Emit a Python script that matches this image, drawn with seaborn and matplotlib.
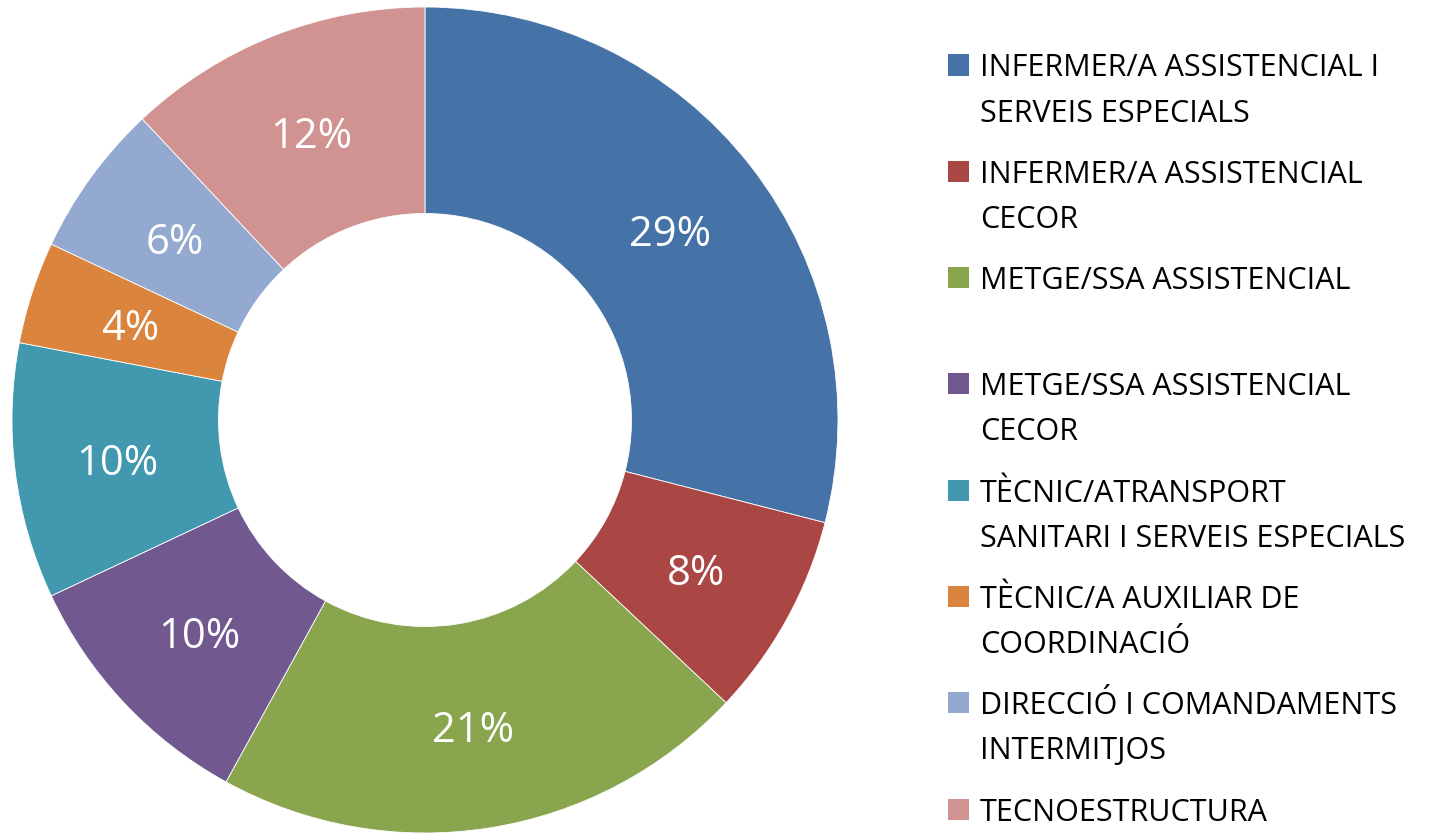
"""Donut chart of staff distribution by professional category."""

import matplotlib
matplotlib.use("Agg")
import matplotlib.pyplot as plt
import seaborn as sns
from matplotlib.patches import Rectangle

categories = [
    "INFERMER/A ASSISTENCIAL I\nSERVEIS ESPECIALS",
    "INFERMER/A ASSISTENCIAL\nCECOR",
    "METGE/SSA ASSISTENCIAL",
    "METGE/SSA ASSISTENCIAL\nCECOR",
    "TÈCNIC/ATRANSPORT\nSANITARI I SERVEIS ESPECIALS",
    "TÈCNIC/A AUXILIAR DE\nCOORDINACIÓ",
    "DIRECCIÓ I COMANDAMENTS\nINTERMITJOS",
    "TECNOESTRUCTURA",
]
shares = [29, 8, 21, 10, 10, 4, 6, 12]

colors = ["#4572A7", "#AA4643", "#89A54E", "#71588F",
          "#4198AF", "#DB843D", "#93A9CF", "#D19392"]

sns.set_theme(style="white")
plt.rcParams["font.family"] = ["Open Sans", "DejaVu Sans"]

W, H = 1440, 833
fig = plt.figure(figsize=(W / 100, H / 100), dpi=100)

# pie centre ~ (425, 420) px, radius ~413 px
cx, cy, r = 425, 420, 413
ax = fig.add_axes([(cx - r) / W, (H - cy - r) / H, 2 * r / W, 2 * r / H])

wedges, texts, autotexts = ax.pie(
    shares,
    colors=colors,
    startangle=90,
    counterclock=False,
    radius=1.0,
    autopct=lambda p: f"{p:.0f}%",
    pctdistance=0.75,
    wedgeprops=dict(width=0.5, edgecolor="white", linewidth=0.6),
    textprops=dict(color="white", fontsize=30),
)
for t in autotexts:
    t.set_va("center_baseline")
ax.set_xlim(-1, 1)
ax.set_ylim(-1, 1)
ax.set_aspect("equal")
ax.axis("off")

# legend drawn by hand to follow the reference layout
sq_x, sq = 948, 21
txt_x = 980
y0, step, line_gap = 65, 106.3, 45
for i, (label, col) in enumerate(zip(categories, colors)):
    y = y0 + i * step
    fig.add_artist(Rectangle(((sq_x) / W, (H - y - sq / 2) / H), sq / W, sq / H,
                             transform=fig.transFigure, facecolor=col,
                             edgecolor="none"))
    for j, line in enumerate(label.split("\n")):
        fig.text(txt_x / W, (H - y - j * line_gap) / H, line,
                 ha="left", va="center_baseline", fontsize=22, color="black")

fig.savefig("out.png", dpi=100, facecolor="white")
